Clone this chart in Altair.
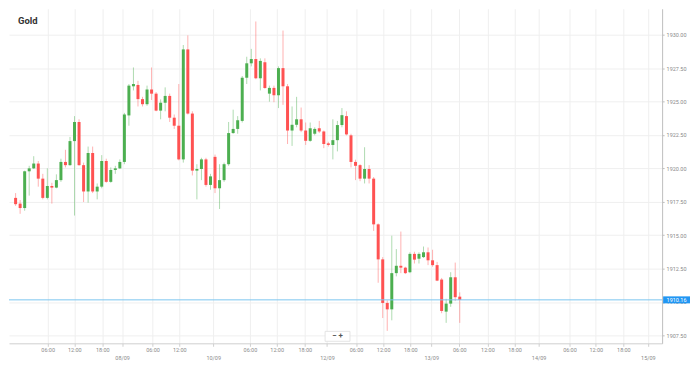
import altair as alt
import pandas as pd

# ---- data (hourly candles) ----
candle_index = list(range(1, 100))
open_ = [1917.79, 1917.36, 1917.03, 1919.78, 1920.00, 1920.36, 1919.23, 1917.79, 1918.68, 1918.56,
         1919.12, 1920.48, 1920.24, 1922.04, 1923.47, 1920.24, 1918.27, 1921.15, 1918.27, 1918.63,
         1920.55, 1918.99, 1919.88, 1920.00, 1920.48, 1923.96, 1926.14, 1926.24, 1925.18, 1924.80,
         1925.90, 1925.59, 1924.32, 1924.91, 1925.42, 1923.79, 1923.19, 1920.67, 1928.90, 1924.10,
         1919.83, 1919.95, 1920.67, 1918.76, 1920.86, 1918.51, 1919.12, 1920.31, 1922.64, 1922.95,
         1923.55, 1926.78, 1927.86, 1928.18, 1926.74, 1927.94, 1925.59, 1926.02, 1925.47, 1927.50,
         1926.14, 1922.83, 1923.26, 1923.67, 1922.83, 1922.06, 1922.59, 1923.00, 1922.76, 1921.87,
         1921.75, 1922.11, 1923.24, 1923.91, 1922.47, 1920.48, 1920.24, 1919.23, 1919.95, 1919.23,
         1915.81, 1913.19, 1909.93, 1909.45, 1912.16, 1912.71, 1912.57, 1912.23, 1913.60, 1913.24,
         1913.36, 1913.72, 1913.12, 1912.76, 1911.68, 1909.28, 1909.88, 1911.85, 1910.40]
high = [1918.15, 1917.63, 1919.83, 1920.19, 1920.91, 1920.55, 1919.59, 1920.00, 1918.92, 1919.55,
        1920.72, 1921.39, 1922.35, 1923.91, 1923.67, 1920.43, 1921.63, 1921.63, 1918.87, 1920.99,
        1920.72, 1920.07, 1920.19, 1920.67, 1924.15, 1926.31, 1927.55, 1926.55, 1925.35, 1926.19,
        1927.55, 1925.71, 1925.16, 1926.06, 1925.59, 1924.03, 1926.31, 1929.23, 1929.95, 1924.27,
        1920.31, 1920.79, 1920.79, 1919.59, 1921.03, 1920.31, 1920.43, 1923.47, 1924.39, 1923.91,
        1926.91, 1928.35, 1928.94, 1930.99, 1928.23, 1928.23, 1926.19, 1926.19, 1927.63, 1930.31,
        1926.31, 1924.63, 1925.35, 1924.55, 1923.43, 1923.43, 1923.07, 1923.55, 1922.83, 1921.99,
        1923.67, 1923.55, 1924.51, 1924.27, 1922.59, 1920.65, 1920.31, 1921.58, 1920.24, 1919.35,
        1915.88, 1913.36, 1910.12, 1914.96, 1913.96, 1915.27, 1912.64, 1913.72, 1913.76, 1913.72,
        1914.15, 1914.08, 1913.91, 1913.00, 1911.80, 1910.24, 1912.23, 1912.95, 1910.72]
low = [1917.19, 1916.60, 1916.83, 1917.96, 1919.95, 1918.63, 1917.68, 1917.68, 1917.36, 1918.51,
       1918.99, 1920.07, 1920.19, 1916.47, 1920.19, 1917.48, 1917.43, 1918.15, 1917.68, 1918.51,
       1918.92, 1918.92, 1919.59, 1919.95, 1920.31, 1923.19, 1925.83, 1924.63, 1924.63, 1924.68,
       1925.11, 1924.27, 1923.67, 1924.27, 1923.47, 1922.95, 1920.60, 1920.43, 1924.03, 1919.47,
       1917.68, 1919.12, 1918.63, 1918.40, 1918.15, 1916.96, 1918.99, 1920.19, 1922.59, 1922.59,
       1923.43, 1926.31, 1927.63, 1926.67, 1925.83, 1925.95, 1924.99, 1924.95, 1924.51, 1924.75,
       1921.82, 1921.68, 1923.07, 1922.71, 1921.75, 1921.99, 1922.47, 1922.64, 1921.51, 1921.63,
       1920.67, 1921.27, 1923.07, 1922.47, 1920.07, 1919.12, 1919.04, 1918.87, 1918.87, 1915.32,
       1911.44, 1908.80, 1907.84, 1908.63, 1911.92, 1912.16, 1912.09, 1912.16, 1912.88, 1912.88,
       1913.29, 1912.76, 1912.64, 1911.56, 1909.16, 1908.44, 1909.64, 1910.07, 1908.44]
close = [1917.32, 1917.03, 1919.78, 1920.00, 1920.36, 1919.23, 1917.79, 1918.68, 1918.56, 1919.12,
         1920.48, 1920.24, 1922.04, 1923.47, 1920.24, 1918.27, 1921.15, 1918.27, 1918.63, 1920.55,
         1918.99, 1919.88, 1920.00, 1920.48, 1924.03, 1926.19, 1926.31, 1925.18, 1924.80, 1925.90,
         1925.59, 1924.32, 1924.91, 1925.42, 1923.79, 1923.19, 1920.67, 1928.90, 1924.10, 1919.83,
         1919.95, 1920.67, 1918.76, 1919.40, 1918.51, 1919.12, 1920.31, 1922.64, 1922.95, 1923.60,
         1926.78, 1927.86, 1928.18, 1926.74, 1928.04, 1926.02, 1926.02, 1925.47, 1927.50, 1926.14,
         1922.83, 1923.26, 1923.67, 1922.83, 1922.06, 1923.00, 1922.95, 1922.76, 1921.82, 1921.75,
         1922.11, 1923.24, 1923.98, 1922.54, 1920.48, 1920.19, 1919.23, 1919.95, 1919.23, 1915.81,
         1913.19, 1909.93, 1909.45, 1912.16, 1912.71, 1912.57, 1912.16, 1913.60, 1913.17, 1913.60,
         1913.72, 1913.12, 1912.76, 1911.60, 1909.33, 1909.88, 1911.85, 1910.36, 1910.16]

tick_positions = [8.07, 13.96, 20.12, 24.5, 31.2, 37.1, 44.6, 52.7, 58.6, 64.8, 69.7, 76.1,
                  82.1, 88.1, 92.7, 98.9, 105.1, 111.1, 116.4, 123.2, 129.0, 135.1, 140.5]
tick_labels = ["06:00", "12:00", "18:00", "08/09", "06:00", "12:00", "10/09", "06:00", "12:00",
               "18:00", "12/09", "06:00", "12:00", "18:00", "13/09", "06:00", "12:00", "18:00",
               "14/09", "06:00", "12:00", "18:00", "15/09"]
date_labels = ["08/09", "10/09", "12/09", "13/09", "14/09", "15/09"]
y_ticks = [1907.5, 1910.0, 1912.5, 1915.0, 1917.5, 1920.0, 1922.5, 1925.0, 1927.5, 1930.0]
last_price = [1910.16]
last_price_label = ["1910.16"]
title_text = ["Gold"]
control_text = ["\u2212   +"]

df = pd.DataFrame({"i": candle_index, "open": open_, "high": high, "low": low, "close": close})
df["dir"] = ["up" if c >= o else "down" for o, c in zip(open_, close)]

W, H = 656, 336
FONT = "Roboto"
xscale = alt.Scale(domain=[0.64, 142.55], nice=False, zero=False)
yscale = alt.Scale(domain=[1906.91, 1931.94], nice=False, zero=False)
color_scale = alt.Scale(domain=["up", "down"], range=["#4caf50", "#ff5252"])

items = []
for lab in tick_labels:
    if lab in date_labels:
        items.append("['', '%s']" % lab)
    else:
        items.append("'%s'" % lab)
label_expr = "[" + ",".join(items) + "][indexof([" + ",".join(str(p) for p in tick_positions) + "], datum.value)]"

x_axis = alt.Axis(values=tick_positions, labelExpr=label_expr, title=None, grid=True,
                  gridColor="#efefef", gridWidth=1, domainColor="#d0d0d0", tickColor="#d0d0d0",
                  tickSize=3, labelFontSize=5.5, labelColor="#8a8a8a", labelFont=FONT,
                  labelPadding=1, labelLineHeight=8, labelOverlap=False, labelFlush=False,
                  labelBaseline="top")
y_axis = alt.Axis(orient="right", values=y_ticks, format=".2f", title=None, grid=True,
                  gridColor="#efefef", gridWidth=1, domainColor="#bdbdbd", tickColor="#bdbdbd",
                  tickSize=2, labelFontSize=5.5, labelColor="#8a8a8a", labelFont=FONT,
                  labelPadding=2, labelOverlap=False)

X = alt.X("i:Q", scale=xscale, axis=x_axis)
base = alt.Chart(df)
wicks = base.mark_rule(strokeWidth=1, opacity=0.45).encode(
    x=X,
    y=alt.Y("low:Q", scale=yscale, axis=y_axis),
    y2="high:Q",
    color=alt.Color("dir:N", scale=color_scale, legend=None),
)
bodies = base.mark_bar(size=3).encode(
    x=X,
    y=alt.Y("open:Q", scale=yscale, axis=y_axis),
    y2="close:Q",
    color=alt.Color("dir:N", scale=color_scale, legend=None),
)

pdf = pd.DataFrame({"p": last_price, "label": last_price_label})
PY = alt.Y("p:Q", scale=yscale, axis=y_axis)
price_line = alt.Chart(pdf).mark_rule(color="#7cc6f0", strokeWidth=1).encode(y=PY)
price_box = alt.Chart(pdf).mark_point(
    shape="M-1,-0.26L1,-0.26L1,0.26L-1,0.26Z", size=27 * 27, filled=True,
    color="#2196f3", opacity=1, strokeWidth=0).encode(x=alt.value(W + 14.5), y=PY)
price_text = alt.Chart(pdf).mark_text(color="white", fontSize=5.5, font=FONT, align="center",
                                      baseline="middle").encode(
    x=alt.value(W + 14.5), y=PY, text="label:N")

title = alt.Chart(pd.DataFrame({"t": title_text})).mark_text(
    fontWeight="bold", fontSize=9.5, align="left", baseline="top", color="#333333", font=FONT
).encode(x=alt.value(9), y=alt.value(7), text="t:N")

ctrl_box = alt.Chart(pd.DataFrame({"t": control_text})).mark_point(
    shape="M-1,-0.4L1,-0.4L1,0.4L-1,0.4Z", size=25 * 25, filled=True, fill="white",
    stroke="#dddddd", strokeWidth=0.8, opacity=1).encode(x=alt.value(330), y=alt.value(329))
ctrl_text = alt.Chart(pd.DataFrame({"t": control_text})).mark_text(
    fontSize=8, font=FONT, color="#555555", align="center", baseline="middle", fontWeight="bold"
).encode(x=alt.value(330), y=alt.value(329), text="t:N")

chart = alt.layer(wicks, bodies, price_line, price_box, price_text, title, ctrl_box, ctrl_text).properties(
    width=W, height=H, padding=0, background="white"
).configure_view(stroke=None)

chart.save("out.html", embed_options={"renderer": "svg", "actions": False})
